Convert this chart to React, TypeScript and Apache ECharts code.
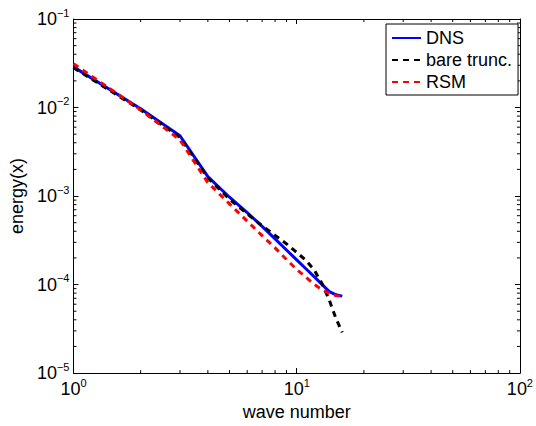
import React, { useEffect, useRef } from "react";
import * as echarts from "echarts";

// Energy spectra per wave number
const waveNumbers = [1, 2, 3, 4, 5, 6, 7, 8, 9, 10, 11, 12, 13, 14, 15, 16];
const dnsEnergy = [
  0.0288, 0.0097, 0.0048, 0.00166, 0.00097, 0.00065, 0.000455, 0.000328,
  0.000246, 0.00019, 0.000151, 0.000122, 0.0001, 0.0000832, 0.0000767, 0.0000741,
];
const bareTruncEnergy = [
  0.0282, 0.0094, 0.0046, 0.0016, 0.00092, 0.00063, 0.000462, 0.00036,
  0.000288, 0.000231, 0.000188, 0.000145, 0.000102, 0.0000665, 0.0000413, 0.0000288,
];
const rsmEnergy = [
  0.0313, 0.0094, 0.0043, 0.00142, 0.000816, 0.000521, 0.000357, 0.00026,
  0.000192, 0.000148, 0.000121, 0.0001, 0.0000875, 0.0000794, 0.000075, 0.0000735,
];

// Minor tick positions of the log axes
const xMinorTicks = [2, 3, 4, 5, 6, 7, 8, 9, 20, 30, 40, 50, 60, 70, 80, 90];
const yMinorTicks = [
  2e-5, 3e-5, 4e-5, 5e-5, 6e-5, 7e-5, 8e-5, 9e-5,
  2e-4, 3e-4, 4e-4, 5e-4, 6e-4, 7e-4, 8e-4, 9e-4,
  2e-3, 3e-3, 4e-3, 5e-3, 6e-3, 7e-3, 8e-3, 9e-3,
  2e-2, 3e-2, 4e-2, 5e-2, 6e-2, 7e-2, 8e-2, 9e-2,
];

const FONT = "'Liberation Sans', Arial, Helvetica, sans-serif";

const powerLabel = (v: number) => {
  const e = Math.round(Math.log10(v));
  const exp = e < 0 ? "\u2212" + -e : String(e);
  return `{b|10}{s|${exp}}`;
};

const richPow = {
  b: { fontSize: 18, lineHeight: 24, fontFamily: FONT, color: "#000" },
  s: { fontSize: 11, lineHeight: 8, verticalAlign: "top", fontFamily: FONT, color: "#000" },
};

const axisCommon = {
  type: "log",
  logBase: 10,
  axisLine: { show: true, onZero: false, lineStyle: { color: "#000", width: 1 } },
  axisTick: { show: true, inside: true, length: 5, lineStyle: { color: "#000", width: 1 } },
  splitLine: { show: false },
  minorTick: { show: false },
};

export default function App() {
  const ref = useRef<HTMLDivElement>(null);

  useEffect(() => {
    if (!ref.current) return;
    const chart = echarts.init(ref.current, undefined, { renderer: "svg" });

    const tickLine = (x1: number, y1: number, x2: number, y2: number) => ({
      type: "line",
      shape: { x1, y1, x2, y2 },
      style: { stroke: "#000", lineWidth: 1 },
    });

    const option = {
      animation: false,
      backgroundColor: "#fff",
      grid: { left: 62, right: 11.5, top: 19, bottom: 42, containLabel: false },
      legend: {
        data: ["DNS", "bare trunc.", "RSM"],
        orient: "vertical",
        left: 386,
        top: 24,
        itemWidth: 29,
        itemHeight: 14,
        itemGap: 2,
        padding: [4, 6, 3, 5],
        borderColor: "#000",
        borderWidth: 1,
        backgroundColor: "#fff",
        selectedMode: false,
        itemStyle: { opacity: 0, borderWidth: 0 },
        textStyle: { fontSize: 18, lineHeight: 20, fontFamily: FONT, color: "#000" },
      },
      xAxis: [
        {
          ...axisCommon,
          position: "bottom",
          min: 1,
          max: 100,
          axisLabel: {
            show: true,
            margin: 4,
            showMinLabel: true,
            showMaxLabel: true,
            formatter: powerLabel,
            rich: richPow,
          },
          name: "wave number",
          nameLocation: "middle",
          nameGap: 28,
          nameTextStyle: { fontSize: 18, fontFamily: FONT, color: "#000" },
        },
        {
          ...axisCommon,
          position: "top",
          min: 1,
          max: 100,
          axisLabel: { show: false },
        },
      ],
      yAxis: [
        {
          ...axisCommon,
          position: "left",
          min: 1e-5,
          max: 1e-1,
          axisLabel: {
            show: true,
            margin: 4,
            showMinLabel: true,
            showMaxLabel: true,
            formatter: powerLabel,
            rich: richPow,
          },
          name: "energy(x)",
          nameLocation: "middle",
          nameGap: 33,
          nameTextStyle: { fontSize: 18, fontFamily: FONT, color: "#000" },
        },
        {
          ...axisCommon,
          position: "right",
          min: 1e-5,
          max: 1e-1,
          axisLabel: { show: false },
        },
      ],
      series: [
        {
          name: "DNS",
          type: "line",
          symbol: "none",
          xAxisIndex: 0,
          yAxisIndex: 0,
          lineStyle: { color: "#0000ff", width: 3, type: "solid" },
          itemStyle: { color: "#0000ff" },
          data: waveNumbers.map((k, i) => [k, dnsEnergy[i]]),
          z: 3,
        },
        {
          name: "bare trunc.",
          type: "line",
          symbol: "none",
          xAxisIndex: 0,
          yAxisIndex: 0,
          lineStyle: { color: "#000000", width: 3, type: [6, 5], cap: "butt" },
          itemStyle: { color: "#000000" },
          data: waveNumbers.map((k, i) => [k, bareTruncEnergy[i]]),
          z: 4,
        },
        {
          name: "RSM",
          type: "line",
          symbol: "none",
          xAxisIndex: 0,
          yAxisIndex: 0,
          lineStyle: { color: "#ff0000", width: 3, type: [6, 5], cap: "butt" },
          itemStyle: { color: "#ff0000" },
          data: waveNumbers.map((k, i) => [k, rsmEnergy[i]]),
          z: 5,
        },
        {
          name: "xMinor",
          type: "custom",
          xAxisIndex: 0,
          yAxisIndex: 0,
          silent: true,
          clip: false,
          data: xMinorTicks.map((v) => [v, 1e-3]),
          renderItem: (params: any, api: any) => {
            const p = api.coord([api.value(0), api.value(1)]);
            const cs = params.coordSys;
            const bottom = cs.y + cs.height;
            return {
              type: "group",
              children: [
                tickLine(p[0], bottom, p[0], bottom - 3),
                tickLine(p[0], cs.y, p[0], cs.y + 3),
              ],
            };
          },
          z: 2,
        },
        {
          name: "yMinor",
          type: "custom",
          xAxisIndex: 0,
          yAxisIndex: 0,
          silent: true,
          clip: false,
          data: yMinorTicks.map((v) => [10, v]),
          renderItem: (params: any, api: any) => {
            const p = api.coord([api.value(0), api.value(1)]);
            const cs = params.coordSys;
            const right = cs.x + cs.width;
            return {
              type: "group",
              children: [
                tickLine(cs.x, p[1], cs.x + 3, p[1]),
                tickLine(right, p[1], right - 3, p[1]),
              ],
            };
          },
          z: 2,
        },
      ],
    };

    chart.setOption(option as any);
    return () => chart.dispose();
  }, []);

  return (
    <div
      ref={ref}
      style={{ position: "fixed", left: 0, top: 0, width: 536, height: 426, background: "#fff" }}
    />
  );
}
